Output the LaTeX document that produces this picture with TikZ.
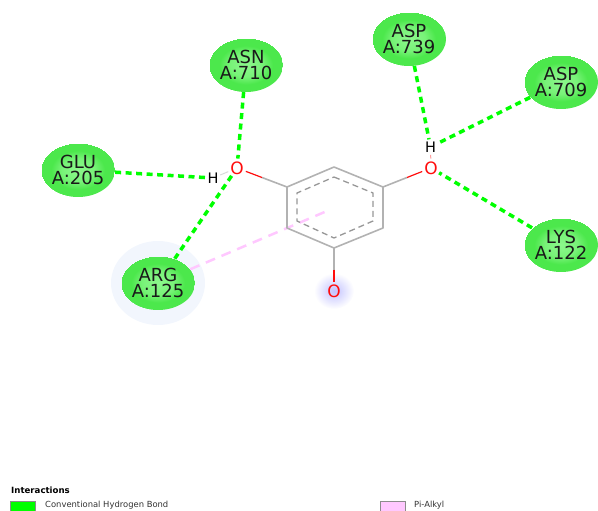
\documentclass[tikz,border=0pt]{standalone}
\usepackage{fontspec}
\setmainfont{DejaVu Sans}
\usetikzlibrary{shapes.geometric,backgrounds,calc}
\definecolor{hb}{RGB}{0,255,0}
\definecolor{pik}{RGB}{255,200,255}
\definecolor{bondg}{RGB}{178,178,178}
\definecolor{ored}{RGB}{255,13,13}
\definecolor{halo}{RGB}{242,246,253}
\pgfdeclareradialshading{resball}{\pgfpoint{0pt}{0pt}}{%
 rgb(0pt)=(0.55,0.97,0.55);
 rgb(11pt)=(0.47,0.95,0.47);
 rgb(18pt)=(0.30,0.91,0.30);
 rgb(25pt)=(0.30,0.91,0.30)}
\tikzset{
 x=1pt,y=-1pt,
 residue/.style={ellipse,shading=resball,minimum width=72pt,minimum height=54pt,inner sep=0pt,align=center,
   font=\fontsize{18}{16.5}\selectfont,text=black!90},
 atomO/.style={circle,inner sep=0pt,minimum size=12pt,text=ored,font=\fontsize{17}{17}\selectfont},
 atomH/.style={circle,inner sep=0pt,minimum size=11pt,text=black,font=\fontsize{14.5}{14.5}\selectfont},
 hbond/.style={draw=hb,line width=3.5pt,dash pattern=on 6pt off 4.5pt},
 pibond/.style={draw=pik,line width=2.5pt,dash pattern=on 10pt off 7pt},
 bond/.style={draw=bondg,line width=1.6pt},
 rbond/.style={draw=ored,line width=1.2pt},
 inner/.style={draw=bondg!85!black,line width=1.3pt,dash pattern=on 6pt off 4pt},
 legendbox/.style={draw=black!45,line width=1pt,minimum width=25pt,minimum height=10pt,inner sep=0pt},
 legendtext/.style={anchor=west,inner sep=0pt,text=black!80,font=\fontsize{8.4}{9}\selectfont},
 legendhead/.style={anchor=west,inner sep=0pt,font=\fontsize{8.6}{9}\selectfont\bfseries},
}
\begin{document}
\begin{tikzpicture}
\useasboundingbox (0,0) rectangle (598,511);
% residues
\node[residue] (glu) at (78,170) {GLU\\A:205};
\node[residue] (arg) at (158,283) {ARG\\A:125};
\node[residue] (asn) at (246,65) {ASN\\A:710};
\node[residue] (asp739) at (409,39) {ASP\\A:739};
\node[residue] (asp709) at (561,82) {ASP\\A:709};
\node[residue] (lys) at (561,245) {LYS\\A:122};
% atoms
\node[atomO] (ol) at (237,168) {O};
\node[atomO] (or) at (431,168) {O};
\node[atomO] (ob) at (334,291) {O};
\node[atomH] (hl) at (213,178) {H};
\node[atomH] (hr) at (430.5,147) {H};
% ring
\coordinate (r1) at (334,167);
\coordinate (r2) at (383,187);
\coordinate (r3) at (383,228);
\coordinate (r4) at (334,248);
\coordinate (r5) at (287,228);
\coordinate (r6) at (287,187);
\coordinate (i1) at (334,177);
\coordinate (i2) at (373,193);
\coordinate (i3) at (373,221);
\coordinate (i4) at (334,238);
\coordinate (i5) at (297,221);
\coordinate (i6) at (297,193);
\coordinate (pic) at (327,211);
\begin{scope}[on background layer]
 \fill[halo] (arg) ellipse [x radius=47,y radius=42];
 \shade[inner color=blue!24!white,outer color=white] (ob) ellipse [x radius=20,y radius=18];
 \path[pibond] (arg) -- (pic);
 \draw[bond,line join=round] (r1) -- (r2) -- (r3) -- (r4) -- (r5) -- (r6) -- cycle;
 \draw[inner] (i1) -- (i2) -- (i3) -- (i4) -- (i5) -- (i6) -- cycle;
 \draw[bond] (r6) -- ($(r6)!0.5!(ol)$);
 \draw[rbond] ($(r6)!0.5!(ol)$) -- (ol);
 \draw[bond] (r2) -- ($(r2)!0.5!(or)$);
 \draw[rbond] ($(r2)!0.5!(or)$) -- (or);
 \draw[bond] (r4) -- ($(r4)!0.5!(ob)$);
 \draw[rbond] ($(r4)!0.5!(ob)$) -- (ob);
 \draw[draw=black!15,line width=1pt] (hl) -- (ol);
 \draw[draw=ored!40,line width=1pt] (hr) -- (or);
 \path[hbond] (asn) -- (ol);
 \path[hbond] (glu) -- (hl);
 \path[hbond] (arg) -- (ol);
 \path[hbond] (asp739) -- (hr);
 \path[hbond] (asp709) -- (hr);
 \path[hbond] (lys) -- (or);
\end{scope}
% legend
\node[legendhead] (lh) at (11,490.5) {Interactions};
\node[legendbox,fill=hb] (lb1) at (23,506) {};
\node[legendtext] (lt1) at (45,505) {Conventional Hydrogen Bond};
\node[legendbox,fill=pik] (lb2) at (392.5,506) {};
\node[legendtext] (lt2) at (414,505) {Pi-Alkyl};
\end{tikzpicture}
\end{document}
